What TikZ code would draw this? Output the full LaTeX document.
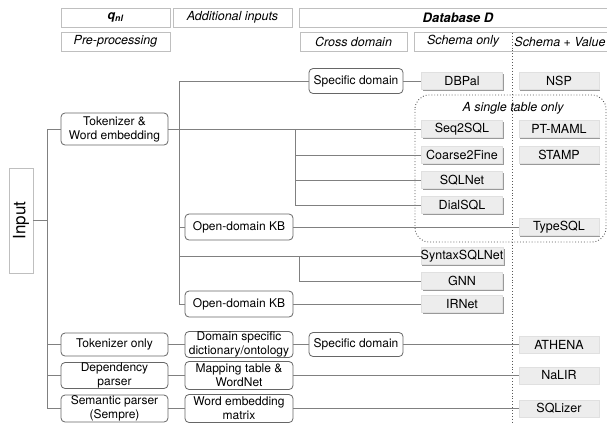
\documentclass[tikz,border=0pt]{standalone}
\usepackage{fontspec}
\setmainfont{TeX Gyre Heros}
\usetikzlibrary{positioning,shadows}

\begin{document}
\begin{tikzpicture}[x=1pt,y=-1pt,
  hdr/.style={draw=black!25,fill=white,minimum height=19pt,inner sep=0pt,
    font=\fontsize{12.5}{14}\selectfont\itshape,
    drop shadow={shadow xshift=1.3pt,shadow yshift=-1.3pt,fill=black!45,opacity=1}},
  stage/.style={draw=black!60,fill=white,rounded corners=4pt,line width=0.8pt,
    minimum width=107pt,inner sep=0pt,align=center,font=\fontsize{12}{14}\selectfont},
  leaf/.style={draw=black!12,fill=black!7,minimum width=81pt,minimum height=17pt,
    inner sep=0pt,font=\fontsize{12.5}{14}\selectfont,
    drop shadow={shadow xshift=1.3pt,shadow yshift=-1.3pt,fill=black!40,opacity=1}},
  link/.style={draw=black!50,line width=0.9pt},
  divider/.style={draw=black!65,dotted,line width=0.9pt}]
\useasboundingbox (0,0) rectangle (607,424);

% column headers
\node[hdr,minimum width=109pt,font=\fontsize{12.5}{14}\selectfont\bfseries\itshape] (qnl) at (115.5,17.5) {q\textsubscript{nl}};
\node[hdr,minimum width=119pt] (addin) at (232.5,17.5) {Additional inputs};
\node[hdr,minimum width=318pt,font=\fontsize{13}{14}\selectfont\bfseries\itshape] (dbhdr) at (458,17.5) {Database D};
\node[hdr,minimum width=109pt] (preproc) at (115.5,41.5) {Pre-processing};
\node[hdr,minimum width=107pt] (cross) at (353.5,41.5) {Cross domain};
\node[hdr,minimum width=203pt] (schemabox) at (515.5,41.5) {};
\node[font=\fontsize{12.5}{14}\selectfont\itshape] (sonly) at (463,41.5) {Schema only};
\node[font=\fontsize{12.5}{14}\selectfont\itshape] (sval) at (560,41.5) {Schema + Value};

% schema / value split and single-table group
\draw[divider] (512,33) -- (512,424);
\draw[divider,rounded corners=14pt] (415,95) rectangle (606,242);
\node[font=\fontsize{12.5}{14}\selectfont\itshape] (single) at (513,108) {A single table only};

% input and pre-processing
\node[hdr,font=\fontsize{17}{18}\selectfont,minimum width=24pt,minimum height=105pt] (input) at (21,220.5) {\rotatebox{90}{Input}};
\node[stage,minimum height=32pt] (tokwe) at (114.5,129) {Tokenizer \&\\Word embedding};
\node[stage,minimum height=23pt] (tokonly) at (114.5,344.5) {Tokenizer only};
\node[stage,minimum height=26pt] (dep) at (114.5,375.5) {Dependency\\parser};
\node[stage,minimum height=27pt] (sem) at (114.5,408.5) {Semantic parser\\(Sempre)};

% additional inputs
\node[stage,minimum width=108pt,minimum height=26pt] (kbone) at (239,227) {Open-domain KB};
\node[stage,minimum width=108pt,minimum height=26pt] (kbtwo) at (239,304) {Open-domain KB};
\node[stage,minimum width=108pt,minimum height=26pt] (dict) at (239,344.5) {Domain specific\\dictionary/ontology};
\node[stage,minimum width=108pt,minimum height=28pt] (mapwn) at (239,375.5) {Mapping table \&\\WordNet};
\node[stage,minimum width=108pt,minimum height=28pt] (wemb) at (239,408.5) {Word embedding\\matrix};
\node[stage,minimum width=94pt,minimum height=25pt] (sdone) at (356,81) {Specific domain};
\node[stage,minimum width=94pt,minimum height=24pt] (sdtwo) at (356,344.5) {Specific domain};

% systems
\foreach \n/\t/\y in {dbpal/DBPal/81, seqsql/Seq2SQL/129, coarse/Coarse2Fine/155,
    sqlnet/SQLNet/180, dialsql/DialSQL/205, syntax/SyntaxSQLNet/256,
    gnn/GNN/281, irnet/IRNet/304}
  \node[leaf] (\n) at (462,\y) {\t};
\foreach \n/\t/\y in {nsp/NSP/81, ptmaml/PT-MAML/129, stamp/STAMP/155,
    typesql/TypeSQL/227, athena/ATHENA/344.5, nalir/NaLIR/375.5, sqlizer/SQLizer/408.5}
  \node[leaf,minimum width=80pt] (\n) at (559,\y) {\t};

% tree
\coordinate (trunk) at (47,220.5);
\coordinate (trunktwo) at (179,129);
\coordinate (splitone) at (295,129);
\coordinate (splittwo) at (299,256);
\draw[link] (input.east) -- (trunk);
\draw[link] (trunk |- tokwe.west) -- (trunk |- sem.west);
\foreach \n in {tokwe,tokonly,dep,sem}
  \draw[link] (trunk |- \n.west) -- (\n.west);
\draw[link] (trunktwo |- sdone.west) -- (trunktwo |- kbtwo.west);
\foreach \n in {sdone,kbone,syntax,kbtwo}
  \draw[link] (trunktwo |- \n.west) -- (\n.west);
\draw[link] (tokwe.east) -- (seqsql.west);
\draw[link] (splitone) -- (splitone |- dialsql.west);
\foreach \n in {coarse,sqlnet,dialsql}
  \draw[link] (splitone |- \n.west) -- (\n.west);
\draw[link] (splittwo) |- (gnn.west);
\draw[link] (sdone.east) -- (dbpal.west);
\draw[link] (kbone.east) -- (typesql.west);
\draw[link] (kbtwo.east) -- (irnet.west);
\draw[link] (tokonly.east) -- (dict.west);
\draw[link] (dict.east) -- (sdtwo.west);
\draw[link] (sdtwo.east) -- (athena.west);
\draw[link] (dep.east) -- (mapwn.west);
\draw[link] (mapwn.east) -- (nalir.west);
\draw[link] (sem.east) -- (wemb.west);
\draw[link] (wemb.east) -- (sqlizer.west);
\end{tikzpicture}
\end{document}
